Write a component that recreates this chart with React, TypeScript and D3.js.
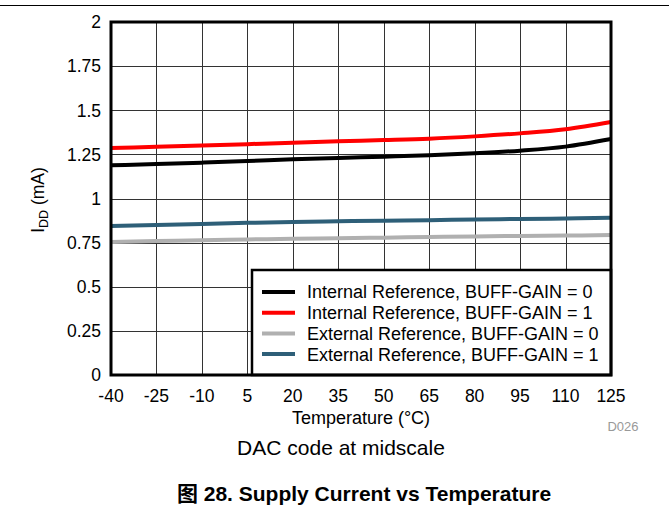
import React from "react";
import * as d3 from "d3";

const temps = [-40, -25, -10, 5, 20, 35, 50, 65, 80, 95, 110, 125];
const intGain0 = [1.188, 1.195, 1.203, 1.212, 1.222, 1.230, 1.237, 1.245, 1.256, 1.271, 1.294, 1.337];
const intGain1 = [1.286, 1.293, 1.300, 1.308, 1.316, 1.324, 1.331, 1.339, 1.352, 1.369, 1.392, 1.433];
const extGain0 = [0.754, 0.759, 0.764, 0.768, 0.772, 0.775, 0.778, 0.782, 0.785, 0.788, 0.790, 0.793];
const extGain1 = [0.844, 0.850, 0.856, 0.862, 0.867, 0.871, 0.874, 0.877, 0.881, 0.884, 0.887, 0.891];
const yTicks = [0, 0.25, 0.5, 0.75, 1, 1.25, 1.5, 1.75, 2];
const yTickLabels = ["0", "0.25", "0.5", "0.75", "1", "1.25", "1.5", "1.75", "2"];
const seriesNames = [
  "Internal Reference, BUFF-GAIN = 0",
  "Internal Reference, BUFF-GAIN = 1",
  "External Reference, BUFF-GAIN = 0",
  "External Reference, BUFF-GAIN = 1",
];
const seriesColors = ["#000000", "#ff0000", "#b0b0b0", "#2e5f78"];
const seriesValues = [intGain0, intGain1, extGain0, extGain1];

const W = 669;
const H = 514;
const L = 111, R = 611, T = 22, B = 375;
const FONT = "'Liberation Sans', Arial, Helvetica, sans-serif";

export default function App() {
  const x = d3.scaleLinear().domain([-40, 125]).range([L, R]);
  const y = d3.scaleLinear().domain([0, 2]).range([B, T]);
  const line = d3
    .line<number>()
    .x((_, i) => x(temps[i]))
    .y((v) => y(v))
    .curve(d3.curveMonotoneX);

  const legL = 252, legT = 270;
  const rowY = (i: number) => 292 + i * 20.7;

  return (
    <svg
      width={W}
      height={H}
      style={{ position: "absolute", left: 0, top: 0, background: "#fff" }}
      fontFamily={FONT}
    >
      <rect x={0} y={0} width={W} height={H} fill="#fff" />
      <line x1={0} x2={W} y1={5.5} y2={5.5} stroke="#000" strokeWidth={1} />

      {/* grid */}
      {temps.map((t) => (
        <line key={"gx" + t} x1={Math.round(x(t)) + 0.5} x2={Math.round(x(t)) + 0.5} y1={T} y2={B} stroke="#333" strokeWidth={1} />
      ))}
      {yTicks.map((v) => (
        <line key={"gy" + v} x1={L} x2={R} y1={Math.round(y(v)) + 0.5} y2={Math.round(y(v)) + 0.5} stroke="#333" strokeWidth={1} />
      ))}

      {/* series */}
      {seriesValues.map((vals, i) => (
        <path key={"s" + i} d={line(vals) || ""} fill="none" stroke={seriesColors[i]} strokeWidth={4} />
      ))}

      {/* legend */}
      <rect x={legL} y={legT} width={R - legL} height={B - legT} fill="#fff" stroke="#000" strokeWidth={2.5} />
      {seriesNames.map((n, i) => (
        <g key={"l" + i}>
          <line x1={262} x2={295} y1={rowY(i)} y2={rowY(i)} stroke={seriesColors[i]} strokeWidth={4} />
          <text x={307} y={rowY(i)} dy="0.36em" fontSize={18} fill="#000">{n}</text>
        </g>
      ))}

      {/* frame */}
      <rect x={L} y={T} width={R - L} height={B - T} fill="none" stroke="#000" strokeWidth={3} />

      {/* tick labels */}
      {yTicks.map((v, i) => (
        <text key={"yt" + v} x={101} y={y(v)} dy="0.36em" textAnchor="end" fontSize={17.5} fill="#000">{yTickLabels[i]}</text>
      ))}
      {temps.map((t) => (
        <text key={"xt" + t} x={x(t)} y={402} textAnchor="middle" fontSize={17.5} fill="#000">{t}</text>
      ))}

      <text x={361} y={424} textAnchor="middle" fontSize={18} fill="#000">Temperature (°C)</text>
      <text x={623} y={431} textAnchor="middle" fontSize={13} fill="#999">D026</text>
      <text transform="translate(44,200) rotate(-90)" textAnchor="middle" fontSize={17.5} fill="#000">
        I<tspan fontSize={12.5} dy={4}>DD</tspan><tspan dy={-4}> (mA)</tspan>
      </text>

      <text x={341} y={455} textAnchor="middle" fontSize={21} fill="#000">DAC code at midscale</text>
      <text x={364} y={501} textAnchor="middle" fontSize={21} fontWeight="bold" fill="#000">
        <tspan fontFamily="'Noto Sans CJK SC', sans-serif">图</tspan> 28. Supply Current vs Temperature
      </text>
    </svg>
  );
}
